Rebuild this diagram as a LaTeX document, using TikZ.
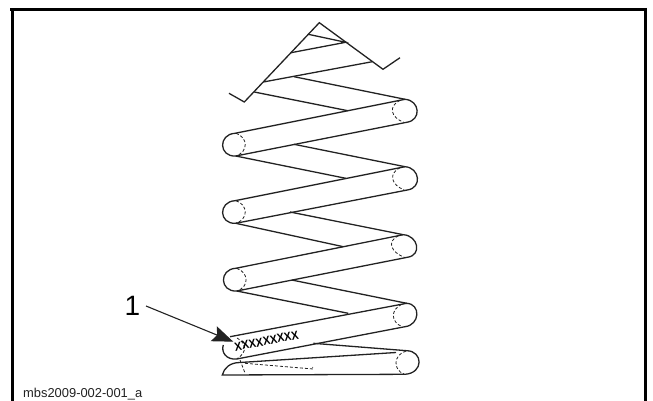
\documentclass[tikz,border=0pt]{standalone}
\usepackage{fontspec}
\setmainfont{Liberation Sans}
\usetikzlibrary{arrows.meta}
\definecolor{ink}{HTML}{222222}
\tikzset{
  wire/.style={draw=ink,line width=1.3pt,line join=miter},
  hid/.style={draw=ink,line width=0.8pt,dash pattern=on 3pt off 2pt},
  frameline/.style={draw=black,line width=3pt},
  leader/.style={draw=ink,line width=1.1pt,-{Stealth[length=21pt,width=16pt,inset=3.5pt]}}
}
\newcommand{\coil}[8]{%
  \draw[wire] (#1,#2) -- (#5,#6) .. controls ({#5+15},{#6+1}) and ({#7+15},{#8-2}) .. (#7,#8) -- (#3,#4)
     .. controls ({#3-17},{#4+1}) and ({#1-17},{#2+1}) .. (#1,#2);
  \draw[hid] ({#1+1},#2) .. controls ({#1+13},{#2+4}) and ({#3+13},{#4-4}) .. (#3,#4);
  \draw[hid] ({#5-5},{#6+1}) .. controls ({#5-17},{#6+7}) and ({#7-16},{#8-5}) .. ({#7-3},#8);
}
\begin{document}
\begin{tikzpicture}[x=1pt,y=-1pt]
\useasboundingbox (0,0) rectangle (653,401);
\draw[frameline] (10,9.5) -- (645.5,9.5) ;
\draw[frameline] (12.5,9.5) -- (12.5,401);
\draw[frameline] (645.5,8) -- (645.5,401);
% top of spring
\draw[wire] (229,93.3) -- (244.3,102) -- (319.3,22.7) -- (383,69.3) -- (400,57.7);
\draw[wire] (308.3,34.3) -- (345.7,42.3) -- (291,52.7);
\draw[wire] (263.3,82) -- (372.3,61.7);
\draw[wire] (294,76.7) -- (405,99.3);
\draw[wire] (254.3,92) -- (347.7,110.7);
% rear segments
\draw[wire] (294,144.3) -- (405,166.7);
\draw[wire] (235.7,156) -- (345.7,178.3);
\draw[wire] (290,212) -- (403.3,234.7);
\draw[wire] (235.7,223.3) -- (343.3,246.7);
\draw[wire] (291.7,280) -- (406.7,303.3);
\draw[wire] (236.7,291) -- (348.3,313.3);
% coils
\coil{235}{133.3}{235.7}{156}{405}{99.3}{406.7}{122.3}
\coil{235}{200.7}{235.7}{223.3}{405}{166.7}{407.3}{190}
\coil{235.7}{268.3}{236.7}{291}{403.3}{234.7}{407.3}{257.3}
% fourth coil, its upper left covered by the arrow
\draw[wire] (230,336.7) -- (406.7,303.3) .. controls (421,304) and (420,325) .. (405,326.7) -- (236.7,359)
   .. controls (226,360) and (221,352) .. (223.3,345);
\draw[hid] (237,338) .. controls (246,343) and (248,352) .. (236.7,359);
\draw[hid] (401.7,304.3) .. controls (390,310) and (391,322) .. (402,326.7);
% bottom coil
\draw[wire] (313.3,343.3) -- (406.7,350.7) .. controls (423,351) and (424,373) .. (405,374.3) -- (222.3,375)
   .. controls (224,368) and (230,362.5) .. (240,362.5) -- (396,352.5);
\draw[hid] (406,351) .. controls (393,355) and (393,370) .. (404,374);
\draw[hid] (240,360) -- (245,373);
\draw[hid] (245,363.3) -- (313.3,369) -- (312.5,367);
% marking
\node[rotate=11,xscale=0.9,inner sep=0pt,font=\fontsize{12}{12}\selectfont\bfseries] (mark) at (266.5,341) {XXXXXXXXX};
% leader
\node[inner sep=0pt,font=\fontsize{28}{28}\selectfont] (one) at (132.5,306) {1};
\coordinate (tip) at (233.3,341.7);
\draw[leader] (146,306) -- (tip);
% caption
\node[anchor=base west,inner sep=0pt,text=ink,font=\fontsize{12.9}{14}\selectfont] (cap) at (23,397) {mbs2009-002-001\_a};
\end{tikzpicture}
\end{document}
